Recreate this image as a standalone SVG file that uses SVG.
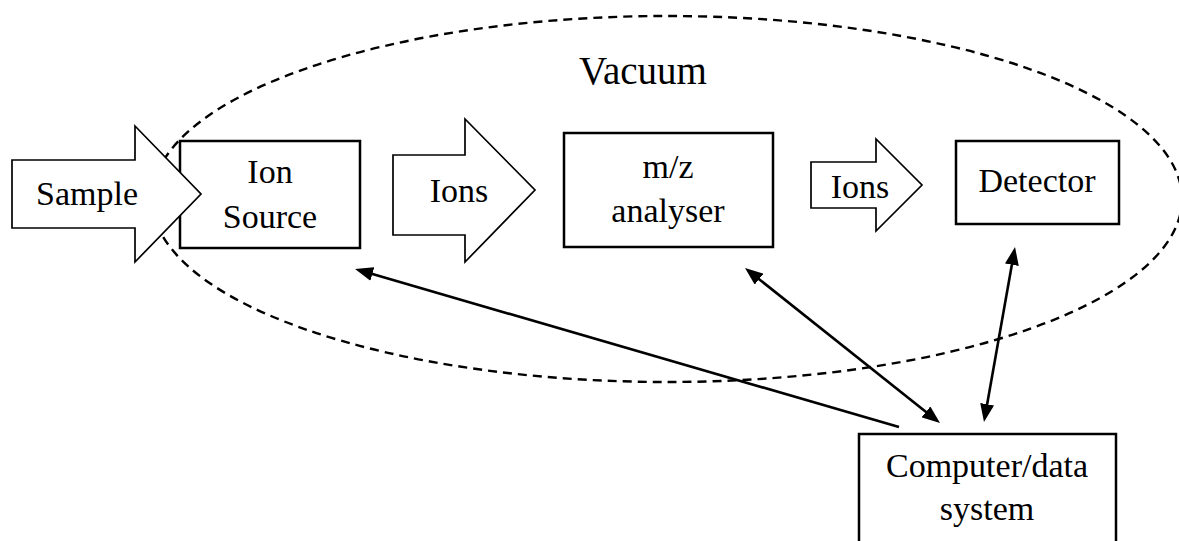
<svg xmlns="http://www.w3.org/2000/svg" width="1179" height="541" viewBox="0 0 1179 541">
  <style>
    .box { fill: #fff; stroke: #000; stroke-width: 2.5; }
    .flow { fill: #fff; stroke: #000; stroke-width: 1.7; stroke-linejoin: miter; }
    .lbl { font-family: "Liberation Serif", "Times New Roman", serif; font-size: 34px; fill: #000; text-anchor: middle; }
    .title { font-family: "Liberation Serif", "Times New Roman", serif; font-size: 39px; fill: #000; text-anchor: middle; }
    .link { fill: none; stroke: #000; stroke-width: 2.6; }
    .zone { fill: none; stroke: #000; stroke-width: 2.4; stroke-dasharray: 9 6; }
  </style>
  <defs>
    <marker id="head" viewBox="0 0 18 14" markerWidth="18" markerHeight="14" refX="7" refY="7" orient="auto-start-reverse" markerUnits="userSpaceOnUse">
      <path d="M0,0 L18,7 L0,14 z" fill="#000"/>
    </marker>
  </defs>

  <rect width="1179" height="541" fill="#fff"/>

  <!-- vacuum region -->
  <g id="vacuum">
    <ellipse class="zone" cx="667" cy="199" rx="515" ry="183"/>
    <text class="title" x="643" y="84">Vacuum</text>
  </g>

  <g id="ion-source">
    <rect class="box" x="180" y="141" width="180" height="107"/>
    <text class="lbl" x="270" y="183">Ion</text>
    <text class="lbl" x="270" y="228">Source</text>
  </g>

  <g id="sample">
    <path class="flow" d="M12,160 L135,160 L135,126 L201,194 L135,262 L135,228 L12,228 Z"/>
    <text class="lbl" x="87" y="205">Sample</text>
  </g>

  <g id="ions-1">
    <path class="flow" d="M393,155 L465,155 L465,119 L535,190 L465,262 L465,235 L393,235 Z"/>
    <text class="lbl" x="459" y="202">Ions</text>
  </g>

  <g id="analyser">
    <rect class="box" x="564" y="133" width="209" height="114"/>
    <text class="lbl" x="668" y="178">m/z</text>
    <text class="lbl" x="668" y="222">analyser</text>
  </g>

  <g id="ions-2">
    <path class="flow" d="M811,162 L876,162 L876,139 L922,185 L876,231 L876,208 L811,208 Z"/>
    <text class="lbl" x="860" y="198">Ions</text>
  </g>

  <g id="detector">
    <rect class="box" x="956" y="141" width="163" height="83"/>
    <text class="lbl" x="1037" y="192">Detector</text>
  </g>

  <g id="computer">
    <rect class="box" x="859" y="434" width="257" height="120"/>
    <text class="lbl" x="987" y="477">Computer/data</text>
    <text class="lbl" x="987" y="520">system</text>
  </g>

  <!-- control / data links -->
  <g id="connectors">
    <line class="link" x1="899" y1="427" x2="365.6" y2="272.1" marker-end="url(#head)"/>
    <line class="link" x1="753.6" y1="274.8" x2="931.4" y2="416.2" marker-start="url(#head)" marker-end="url(#head)"/>
    <line class="link" x1="1013.1" y1="257.8" x2="985.9" y2="411.2" marker-start="url(#head)" marker-end="url(#head)"/>
  </g>
</svg>
